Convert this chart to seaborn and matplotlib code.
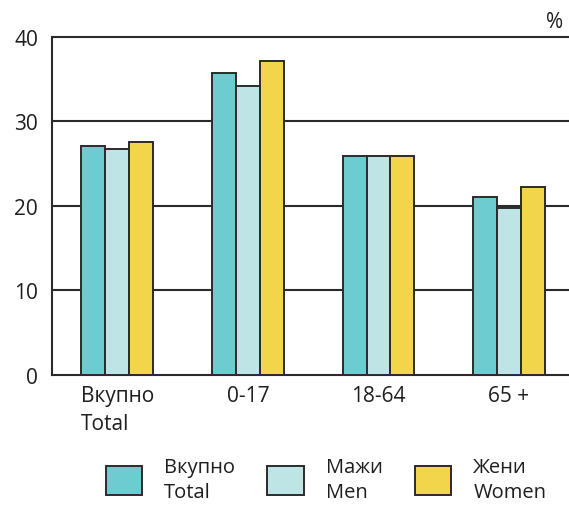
import pandas as pd
import seaborn as sns
import matplotlib.pyplot as plt

# data
groups = ['Вкупно\nTotal', '0-17', '18-64', '65 +']
series = ['Вкупно\nTotal', 'Мажи\nMen', 'Жени\nWomen']
total = [27.1, 35.7, 25.9, 21.1]
men = [26.7, 34.2, 25.9, 19.8]
women = [27.6, 37.2, 25.9, 22.2]

colors = ['#6ccccf', '#bfe4e5', '#f2d54a']

df = pd.DataFrame({
    'group': groups * 3,
    'series': [series[0]] * 4 + [series[1]] * 4 + [series[2]] * 4,
    'value': total + men + women,
})

sns.set_style('white')
plt.rcParams['font.family'] = ['Open Sans', 'DejaVu Sans']

fig = plt.figure(figsize=(5.69, 5.06), dpi=100)
ax = fig.add_axes([0.0914, 0.257, 0.918, 0.668])

sns.barplot(data=df, x='group', y='value', hue='series', order=groups,
            hue_order=series, palette=colors, width=0.55, edgecolor='#2b2b2b',
            linewidth=1.4, saturation=1, ax=ax, zorder=3)

ax.set_ylim(0, 40)
ax.set_xlim(-0.5, 3.5)
ax.set_yticks([0, 10, 20, 30, 40])
for y in [10, 20, 30, 40]:
    ax.axhline(y, color='#2b2b2b', lw=1.5, zorder=1, clip_on=False)
ax.set_xlabel('')
ax.set_ylabel('')
sns.despine(ax=ax, top=True, right=True)
ax.spines['left'].set_color('#2b2b2b')
ax.spines['bottom'].set_color('#2b2b2b')
ax.spines['left'].set_linewidth(1.5)
ax.spines['bottom'].set_linewidth(1.5)
ax.tick_params(axis='both', length=0, labelsize=15, colors='#1e1e1e')
ax.tick_params(axis='y', pad=10)
ax.tick_params(axis='x', pad=7)
for lab in ax.get_xticklabels():
    lab.set_multialignment('left')
    lab.set_linespacing(1.45)

fig.text(0.975, 0.955, '%', fontsize=15, ha='center', va='center', color='#1e1e1e')

ax.get_legend().remove()
handles, labels = ax.get_legend_handles_labels()
leg = fig.legend(handles, labels, loc='center', bbox_to_anchor=(0.573, 0.05), ncol=3,
                 frameon=False, fontsize=14.5, handlelength=1.8, handleheight=1.8,
                 columnspacing=1.6, handletextpad=1.1)
for t in leg.get_texts():
    t.set_linespacing(1.3)
    t.set_color('#1e1e1e')

fig.savefig('out.png', dpi=100)
